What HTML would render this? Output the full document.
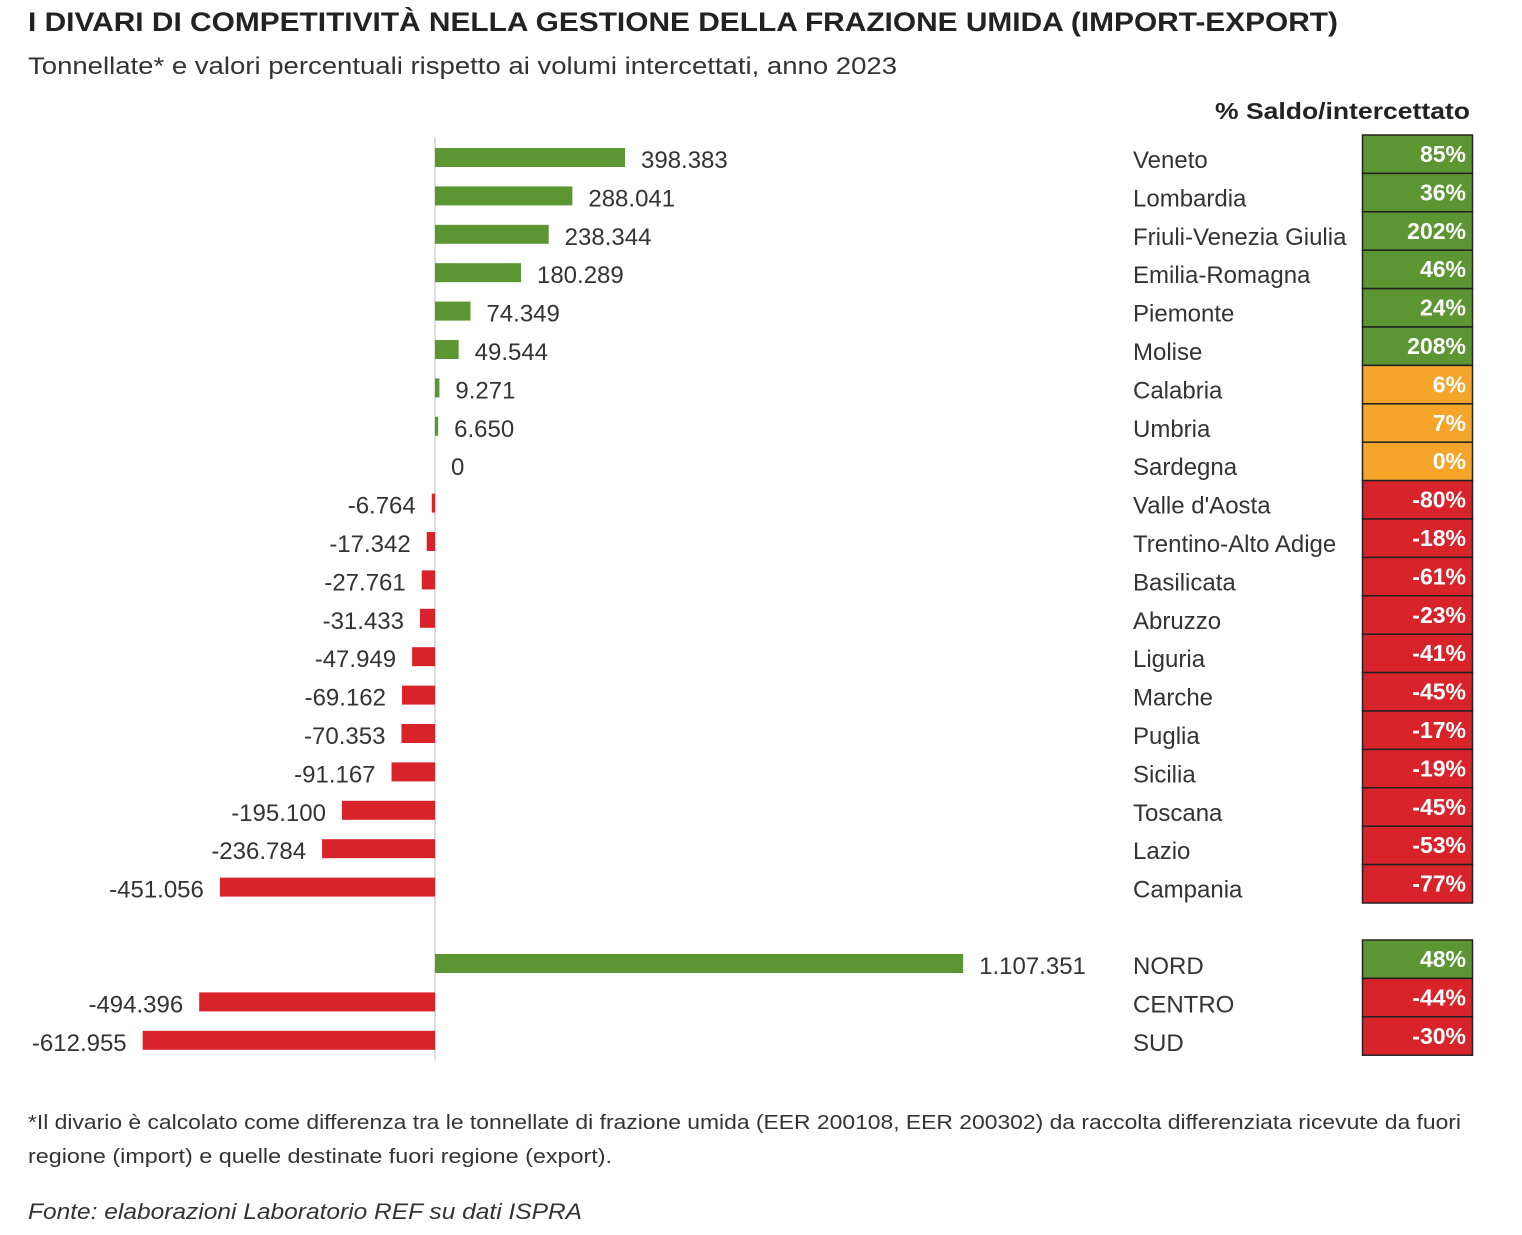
<!DOCTYPE html>
<html><head><meta charset="utf-8"><style>
body{margin:0;background:#fff;width:1522px;height:1230px;overflow:hidden;font-family:"Liberation Sans","DejaVu Sans",sans-serif}
</style></head><body>
<svg id="s" width="1522" height="1230" xmlns="http://www.w3.org/2000/svg" font-family="Liberation Sans, DejaVu Sans, sans-serif">
<text x="28" y="31" font-size="27" font-weight="bold" fill="#222" textLength="1310" lengthAdjust="spacingAndGlyphs">I DIVARI DI COMPETITIVITÀ NELLA GESTIONE DELLA FRAZIONE UMIDA (IMPORT-EXPORT)</text>
<text x="28" y="74" font-size="24" fill="#333" textLength="869" lengthAdjust="spacingAndGlyphs">Tonnellate* e valori percentuali rispetto ai volumi intercettati, anno 2023</text>
<text x="1470" y="119" font-size="23" font-weight="bold" fill="#222" text-anchor="end" textLength="255" lengthAdjust="spacingAndGlyphs">% Saldo/intercettato</text>
<line x1="435" y1="137" x2="435" y2="1060" stroke="#ddd" stroke-width="2"/>
<text x="28" y="1129" font-size="20" fill="#333" textLength="1433" lengthAdjust="spacingAndGlyphs">*Il divario è calcolato come differenza tra le tonnellate di frazione umida (EER 200108, EER 200302) da raccolta differenziata ricevute da fuori</text>
<text x="28" y="1163" font-size="20" fill="#333" textLength="584" lengthAdjust="spacingAndGlyphs">regione (import) e quelle destinate fuori regione (export).</text>
<text x="28" y="1219" font-size="22" font-style="italic" fill="#333" textLength="554" lengthAdjust="spacingAndGlyphs">Fonte: elaborazioni Laboratorio REF su dati ISPRA</text>
</svg>
<script>
const d=[["Veneto",398383,"398.383","85%"],["Lombardia",288041,"288.041","36%"],["Friuli-Venezia Giulia",238344,"238.344","202%"],["Emilia-Romagna",180289,"180.289","46%"],["Piemonte",74349,"74.349","24%"],["Molise",49544,"49.544","208%"],["Calabria",9271,"9.271","6%"],["Umbria",6650,"6.650","7%"],["Sardegna",0,"0","0%"],["Valle d'Aosta",-6764,"-6.764","-80%"],["Trentino-Alto Adige",-17342,"-17.342","-18%"],["Basilicata",-27761,"-27.761","-61%"],["Abruzzo",-31433,"-31.433","-23%"],["Liguria",-47949,"-47.949","-41%"],["Marche",-69162,"-69.162","-45%"],["Puglia",-70353,"-70.353","-17%"],["Sicilia",-91167,"-91.167","-19%"],["Toscana",-195100,"-195.100","-45%"],["Lazio",-236784,"-236.784","-53%"],["Campania",-451056,"-451.056","-77%"],
["NORD",1107351,"1.107.351","48%"],["CENTRO",-494396,"-494.396","-44%"],["SUD",-612955,"-612.955","-30%"]];
const s=document.getElementById('s');const k=190/398383,z=435;let h='';
d.forEach((r,i)=>{const cy=i<20?158+i*38.4:964+(i-20)*38.4;const bt=i<20?135+i*38.4:940+(i-20)*38.4;
const v=r[1],w=Math.max(Math.abs(v)*k,v?3:0),g='#5b9632',rd='#d8232a';
const bc=v>=0?g:rd;
if(w)h+=`<rect x="${v>=0?z:z-w}" y="${cy-10}" width="${w}" height="19" fill="${bc}"/>`;
if(v>=0)h+=`<text x="${z+w+16}" y="${cy+10}" font-size="24" fill="#333">${r[2]}</text>`;
else h+=`<text x="${z-w-16}" y="${cy+10}" font-size="24" fill="#333" text-anchor="end">${r[2]}</text>`;
h+=`<text x="1133" y="${cy+10}" font-size="24" fill="#333">${r[0]}</text>`;
const p=parseInt(r[3]);const pc=(i>=6&&i<=8)?'#f5a529':(p>0?g:rd);
h+=`<rect x="1362.5" y="${bt}" width="110" height="38.4" fill="${pc}" stroke="#222" stroke-width="1.5"/>`;
h+=`<text x="1466" y="${bt+27}" font-size="23" font-weight="bold" fill="#fff" text-anchor="end">${r[3]}</text>`;});
s.insertAdjacentHTML('beforeend',h);
</script>
</body></html>
